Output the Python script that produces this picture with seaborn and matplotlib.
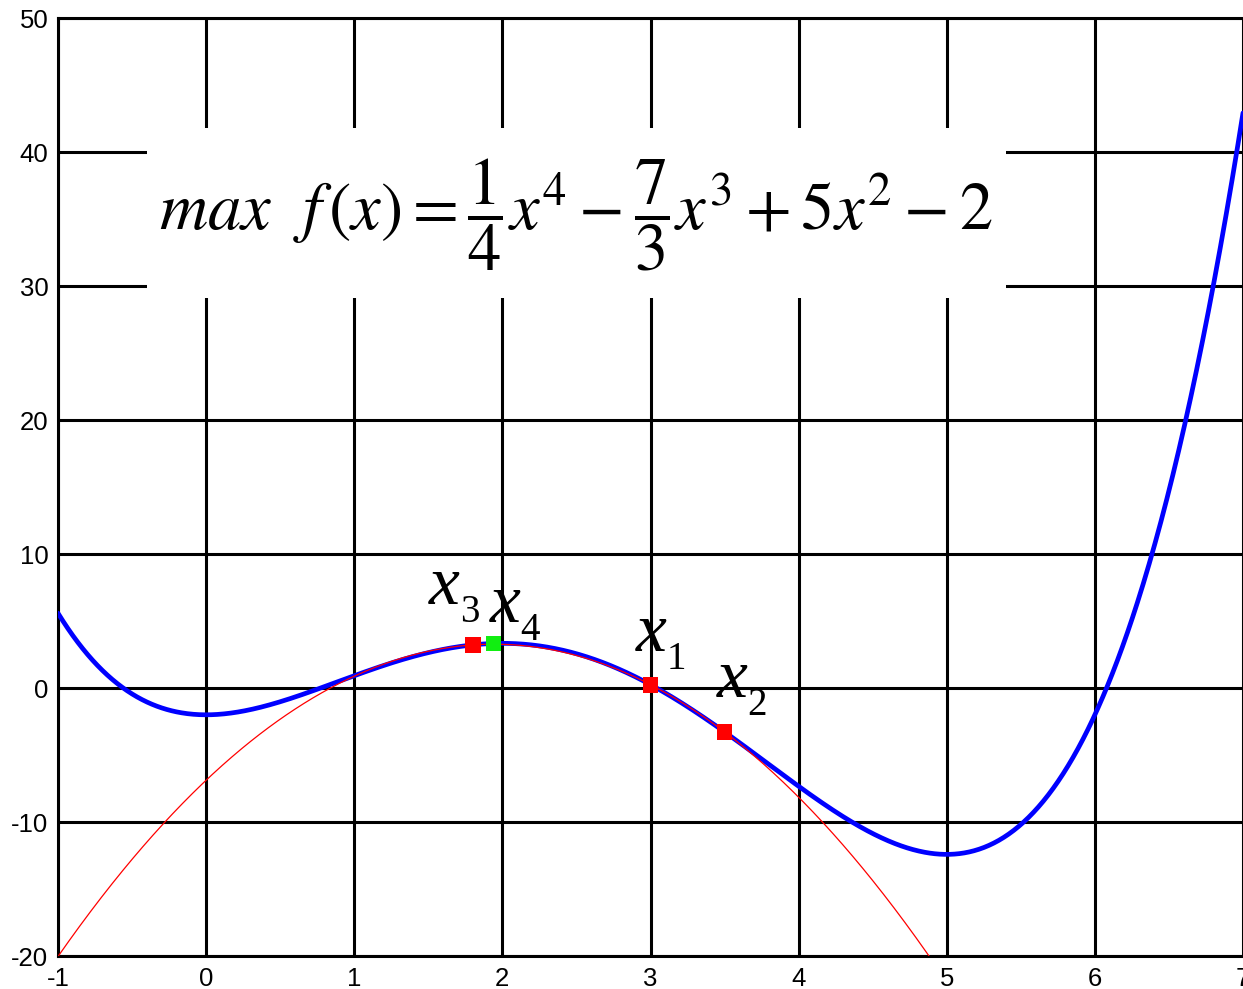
import numpy as np
import pandas as pd
import matplotlib
matplotlib.use("Agg")
import matplotlib.pyplot as plt
from matplotlib.patches import Rectangle
import seaborn as sns

# ---- data ----
# objective f(x) = 1/4 x^4 - 7/3 x^3 + 5 x^2 - 2  (coefficients as printed in the chart)
f_coef = [1/4, -7/3, 5.0, 0.0, -2.0]
# quadratic model (red) through x3, x1, x2
q_coef = [-2.694, 10.459, -6.882]
x_range = [-1.0, 7.0]

pt_names = ["1", "2", "3"]
pt_x = [3.0, 3.5, 1.8]
pt_y = [0.25, -3.28, 3.22]
new_name = "4"
new_x = 1.94
new_y = 3.32

x_ticks = [-1, 0, 1, 2, 3, 4, 5, 6, 7]
y_ticks = [-20, -10, 0, 10, 20, 30, 40, 50]

# ---- build curves ----
xs = np.linspace(x_range[0], x_range[1], 1200)
df_f = pd.DataFrame({"x": xs, "y": np.polyval(f_coef, xs)})
df_q = pd.DataFrame({"x": xs, "y": np.polyval(q_coef, xs)})
df_pts = pd.DataFrame({"x": pt_x, "y": pt_y, "name": pt_names})

sns.set_style("white")
plt.rcParams["font.family"] = ["Liberation Sans", "DejaVu Sans"]
plt.rcParams["mathtext.fontset"] = "stix"
plt.rcParams["axes.unicode_minus"] = False
plt.rcParams["text.color"] = "black"

fig = plt.figure(figsize=(12.43, 9.89), dpi=100)
ax = fig.add_axes([58/1243, 33/989, (1243-58)/1243, 938/989])

ax.set_xlim(-1, 7)
ax.set_ylim(-20, 50)
ax.set_xticks(x_ticks)
ax.set_yticks(y_ticks)
ax.set_axisbelow(True)
ax.grid(True, color="black", linewidth=2.2)
for s in ["left", "bottom", "top"]:
    ax.spines[s].set_visible(True)
    ax.spines[s].set_color("black")
    ax.spines[s].set_linewidth(2.2)
ax.spines["right"].set_visible(False)
ax.tick_params(axis="both", length=0, labelsize=18.5, colors="black")
ax.tick_params(axis="y", pad=7)
ax.tick_params(axis="x", pad=8)

sns.lineplot(data=df_f, x="x", y="y", ax=ax, color="#0000ff", linewidth=3.4,
             zorder=3, sort=False)
sns.lineplot(data=df_q, x="x", y="y", ax=ax, color="#ff0000", linewidth=0.9,
             zorder=4, sort=False)
sns.scatterplot(data=df_pts, x="x", y="y", ax=ax, color="#ff0000", marker="s",
                s=130, edgecolor="none", zorder=5)
sns.scatterplot(x=[new_x], y=[new_y], ax=ax, color="#11ee11", marker="s",
                s=130, edgecolor="none", zorder=5)
ax.set_xlabel("")
ax.set_ylabel("")

# white panel holding the formula
ax.add_patch(Rectangle((-0.4, 29.1), 5.8, 12.7, facecolor="white",
                       edgecolor="none", zorder=1.5))
ax.text(2.497, 35.3,
        r"$max\ \ f\,(x) = \dfrac{1}{4}x^{4} - \dfrac{7}{3}x^{3} + 5x^{2} - 2$",
        fontsize=48, ha="center", va="center", color="black", zorder=6)

# point labels
label_off = {"1": (-15, 34), "2": (-8, 35), "3": (-44, 41), "4": (-4, 22)}
all_pts = list(zip(pt_names, pt_x, pt_y)) + [(new_name, new_x, new_y)]
for name, px, py in all_pts:
    dx, dy = label_off[name]
    ax.annotate("x", (px, py), xytext=(dx, dy), textcoords="offset pixels",
                fontsize=50, family="Liberation Serif", style="italic",
                color="black", ha="left", va="baseline", zorder=6)
    ax.annotate(name, (px, py), xytext=(dx + 31, dy - 18), textcoords="offset pixels",
                fontsize=28, family="Liberation Serif", color="black",
                ha="left", va="baseline", zorder=6)

fig.savefig("out.png", dpi=100)
